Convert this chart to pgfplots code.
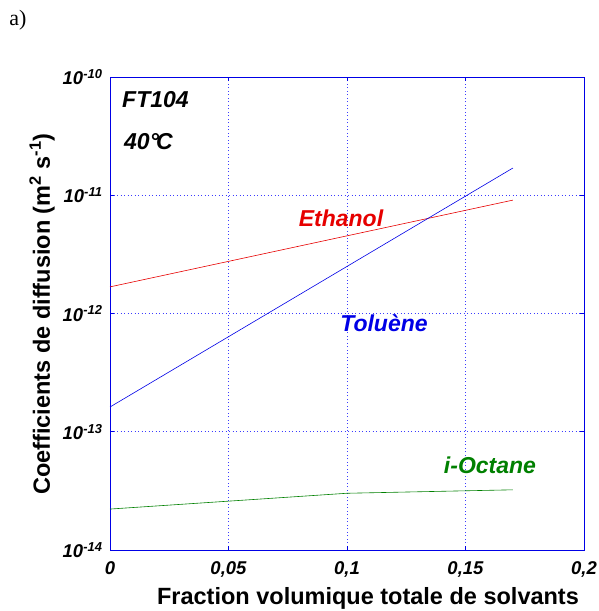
\documentclass[border=0pt]{standalone}
\usepackage{fontspec}
\setmainfont{Liberation Sans}
\newfontfamily\seriffont{Liberation Serif}
\usepackage{pgfplots}
\pgfplotsset{compat=1.18}
\definecolor{myblue}{RGB}{0,0,230}
\definecolor{gridblue}{RGB}{60,60,255}
\definecolor{myred}{RGB}{230,0,0}
\definecolor{mygreen}{RGB}{0,128,0}
\begin{document}
\begin{tikzpicture}[x=1pt,y=1pt]
\useasboundingbox (0,0) rectangle (598,611);
\begin{axis}[
  at={(110pt,61pt)}, anchor=south west,
  scale only axis, width=474pt, height=473pt,
  ymode=log, log basis y=10,
  xmin=0, xmax=0.2, ymin=1e-14, ymax=1e-10,
  axis line style={myblue, line width=0.8pt},
  xmajorgrids, ymajorgrids,
  every axis grid/.style={color=gridblue, line width=0.9pt, dash pattern=on 1pt off 2.5pt},
  xtick={0,0.05,0.1,0.15,0.2},
  xticklabels={0,{0,05},{0,1},{0,15},{0,2}},
  ytick={1e-14,1e-13,1e-12,1e-11,1e-10},
  yticklabels={10\textsuperscript{-14},10\textsuperscript{-13},10\textsuperscript{-12},10\textsuperscript{-11},10\textsuperscript{-10}},
  minor tick num=0, yminorticks=false,
  every tick/.style={color=myblue, line width=0.6pt},
  major tick length=4pt,
  tick align=inside,
  ticklabel style={font=\fontsize{18.5}{20}\selectfont\bfseries\itshape, text=black},
  xticklabel style={yshift=-8pt},
  yticklabel style={xshift=-4pt},
  /pgf/number format/assume math mode=true,
  clip=false,
]
\addplot[myred, line width=0.6pt] coordinates {(0,1.68e-12) (0.17,9.1e-12)};
\addplot[myblue, line width=0.6pt] coordinates {(0,1.62e-13) (0.17,1.70e-11)};
\addplot[mygreen, line width=0.6pt] coordinates {(0,2.22e-14) (0.1,3.02e-14) (0.17,3.23e-14)};
\end{axis}
\node[font=\fontsize{23}{26}\selectfont\bfseries\itshape, text=myred] at (341,393) {Ethanol};
\node[font=\fontsize{23}{26}\selectfont\bfseries\itshape, text=myblue] at (384,288) {Toluène};
\node[font=\fontsize{23}{26}\selectfont\bfseries\itshape, text=mygreen] at (490,146) {i-Octane};
\node[font=\fontsize{23}{26}\selectfont\bfseries\itshape, anchor=west, inner sep=0pt] at (122,511) {FT104};
\node[font=\fontsize{23}{26}\selectfont\bfseries\itshape, anchor=west, inner sep=0pt] at (124,469) {40°{\kern-0.12em}C};
\node[font=\seriffont\fontsize{22}{24}\selectfont] at (18,591) {a)};
\node[font=\fontsize{23.5}{26}\selectfont\bfseries, rotate=90] at (42,297) {Coefficients de diffusion (m\textsuperscript{2} s\textsuperscript{-1})};
\node[font=\fontsize{23.5}{26}\selectfont\bfseries] at (368,13) {Fraction volumique totale de solvants};
\end{tikzpicture}
\end{document}
